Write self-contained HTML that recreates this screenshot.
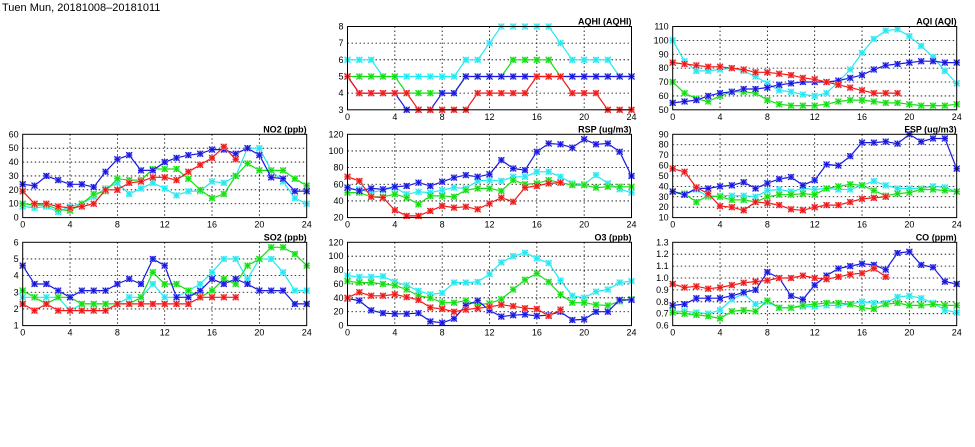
<!DOCTYPE html>
<html><head><meta charset="utf-8">
<style>
html,body{margin:0;padding:0;background:#fff;width:975px;height:447px;overflow:hidden}
svg{display:block}
text{font-family:"Liberation Sans",sans-serif;font-size:9px;fill:#000}
</style></head>
<body>
<svg id="chart" width="975" height="447" viewBox="0 0 975 447" xmlns="http://www.w3.org/2000/svg">
<text x="2" y="11" style="font-size:11px">Tuen Mun, 20181008–20181011</text>
</svg>
<script>
const hours = [0,1,2,3,4,5,6,7,8,9,10,11,12,13,14,15,16,17,18,19,20,21,22,23,24];
const xTicks = [0,4,8,12,16,20,24];

const aqhiTicks = [3,4,5,6,7,8];
const aqhiCyan = [6,6,6,5,5,5,5,5,5,5,6,6,7,8,8,8,8,8,7,6,6,6,6,5,5];
const aqhiGreen = [5,5,5,5,5,4,4,4,4,4,5,5,5,5,6,6,6,6,5,5,5,5,5,5,5];
const aqhiBlue = [5,4,4,4,4,3,3,3,4,4,5,5,5,5,5,5,5,5,5,5,5,5,5,5,5];
const aqhiRed = [5,4,4,4,4,4,3,3,3,3,3,4,4,4,4,4,5,5,5,4,4,4,3,3,3];

const aqiTicks = [50,60,70,80,90,100,110];
const aqiCyan = [100,85,78,78,79,80,78,74,69,64,63,61,60,62,70,79,91,101,107,108,103,96,88,78,69];
const aqiGreen = [70,62,58,56,60,63,63,62,57,54,53,53,53,54,56,57,57,56,55,55,54,53,53,53,54];
const aqiBlue = [55,56,57,60,62,63,65,65,66,68,69,70,70,70,71,73,75,79,82,83,84,85,85,84,84];
const aqiRed = [84,83,82,81,81,80,79,77,77,76,75,73,72,70,68,66,64,62,62,62];

const no2Ticks = [0,10,20,30,40,50,60];
const no2Cyan = [8,7,8,4,8,10,15,21,25,17,21,25,21,16,19,19,26,25,30,50,50,34,26,14,10];
const no2Green = [10,9,9,6,5,10,17,19,28,27,27,35,35,35,28,20,14,17,30,39,34,34,34,28,23];
const no2Blue = [24,23,30,27,24,24,22,33,42,45,34,34,40,43,45,46,49,49,46,50,45,29,28,19,19];
const no2Red = [19,10,10,8,7,8,10,20,20,25,26,29,29,27,33,38,43,51,42];

const rspTicks = [20,40,60,80,100,120];
const rspCyan = [54,54,50,53,56,48,51,50,53,56,55,64,65,64,69,69,75,75,69,61,60,71,61,54,50];
const rspGreen = [50,50,45,45,48,44,36,46,46,45,53,55,55,52,65,60,61,65,62,59,59,56,57,57,57];
const rspBlue = [56,52,55,54,57,58,62,58,63,68,71,69,72,89,79,77,99,109,108,104,114,108,109,99,70];
const rspRed = [69,64,45,44,29,22,22,28,34,32,33,30,37,44,39,56,58,61,62];

const fspTicks = [10,20,30,40,50,60,70,80,90];
const fspCyan = [35,32,37,30,31,31,31,30,36,37,35,38,37,38,37,37,41,45,41,38,38,38,40,39,35];
const fspGreen = [35,33,25,31,30,27,27,25,30,32,32,33,32,38,40,42,41,36,31,33,34,37,37,36,35];
const fspBlue = [35,32,38,38,40,41,44,38,43,47,49,41,46,61,60,69,82,82,83,81,90,83,86,86,57];
const fspRed = [57,54,39,33,21,20,17,25,24,22,18,17,20,22,22,25,28,29,30];

const so2Ticks = [1,2,3,4,5,6];
const so2Cyan = [2.7,2.7,2.7,2.7,1.9,2.3,2.3,2.3,2.3,2.7,2.7,3.5,2.7,2.7,3.1,3.5,4.2,5.0,5.0,3.8,5.0,5.0,4.2,3.1,3.1];
const so2Green = [3.1,2.7,2.3,2.7,2.7,2.3,2.3,2.3,2.3,2.3,2.7,4.2,3.5,3.5,3.1,2.7,3.1,3.8,3.5,4.6,5.0,5.7,5.7,5.3,4.6];
const so2Blue = [4.6,3.5,3.5,3.1,2.7,3.1,3.1,3.1,3.5,3.8,3.5,5.0,4.6,2.7,2.7,3.1,3.8,3.5,3.8,3.5,3.1,3.1,3.1,2.3,2.3];
const so2Red = [2.3,1.9,2.3,1.9,1.9,1.9,1.9,1.9,2.3,2.3,2.3,2.3,2.3,2.3,2.3,2.7,2.7,2.7,2.7];

const o3Ticks = [0,20,40,60,80,100,120];
const o3Cyan = [72,70,70,71,63,58,50,45,47,62,62,63,74,91,100,105,97,90,65,43,40,49,52,62,64];
const o3Green = [64,62,62,60,58,52,43,40,33,33,36,30,32,38,52,66,75,63,45,33,33,30,29,35,38];
const o3Blue = [39,36,22,18,17,17,18,6,4,10,29,36,22,13,15,16,14,15,20,8,9,20,20,37,37];
const o3Red = [40,48,43,43,45,41,37,26,24,20,23,25,27,30,28,25,24,14,23];

const coTicks = [0.6,0.7,0.8,0.9,1.0,1.1,1.2,1.3];
const coCyan = [0.72,0.72,0.71,0.70,0.73,0.82,0.87,0.78,0.80,0.75,0.75,0.76,0.76,0.77,0.77,0.78,0.80,0.79,0.79,0.84,0.85,0.83,0.79,0.73,0.71];
const coGreen = [0.71,0.70,0.69,0.68,0.66,0.72,0.73,0.72,0.81,0.75,0.75,0.77,0.78,0.79,0.79,0.78,0.75,0.74,0.78,0.79,0.77,0.77,0.78,0.77,0.77];
const coBlue = [0.77,0.78,0.83,0.83,0.83,0.85,0.88,0.90,1.05,1.00,0.85,0.82,0.94,1.02,1.08,1.10,1.12,1.11,1.07,1.21,1.22,1.11,1.09,0.97,0.95];
const coRed = [0.95,0.92,0.93,0.91,0.92,0.94,0.96,0.97,0.98,1.00,1.00,1.02,1.00,0.99,1.01,1.03,1.04,1.08,1.01];

const NS = 'http://www.w3.org/2000/svg';
const svg = document.getElementById('chart');
function mk(tag, attrs, parent){
  const e = document.createElementNS(NS, tag);
  for (const k in attrs) e.setAttribute(k, attrs[k]);
  (parent||svg).appendChild(e);
  return e;
}
const COL = {cyan:'#22e8f0', green:'#10e010', blue:'#1818e0', red:'#f01818'};
const LIGHT = {cyan:'#a8f4f8', green:'#a0f0a0', blue:'#a0a0f4', red:'#f4a0a0'};

function panel(id, title, left, top, w, h, ticks, fmt, series){
  const g = mk('g', {});
  
  
  const ymin = ticks[0], ymax = ticks[ticks.length-1];
  const xs = v => left + v/24*w;
  const ys = v => top + h - (v-ymin)/(ymax-ymin)*h;
  // grid
  ticks.forEach((t,i)=>{
    if(i>0 && i<ticks.length-1){
      const l = mk('line',{x1:left,x2:left+w,y1:ys(t),y2:ys(t),stroke:'#000','stroke-width':0.8,'stroke-dasharray':'1.5,2.5'},g);
      
      
    }
    const tx = mk('text',{x:left-4,y:ys(t)+3,'text-anchor':'end'},g);
    
    
    tx.textContent = fmt(t);
  });
  xTicks.forEach((t,i)=>{
    if(i>0 && i<xTicks.length-1){
      const l = mk('line',{x1:xs(t),x2:xs(t),y1:top,y2:top+h,stroke:'#000','stroke-width':0.8,'stroke-dasharray':'1.5,2.5'},g);
      
      
    }
    const tx = mk('text',{x:xs(t),y:top+h+10,'text-anchor':'middle'},g);
    
    
    tx.textContent = t;
  });
  // clip
  const cp = mk('clipPath',{id:'clip-'+id},g);
  mk('rect',{x:left-4,y:top-4,width:w+8,height:h+8},cp);
  const sg = mk('g',{'clip-path':'url(#clip-'+id+')'},g);
  series.forEach(([name,vals])=>{
    const pts = vals.map((v,i)=>xs(hours[i]).toFixed(1)+','+ys(v).toFixed(1)).join(' ');
    const pl = mk('polyline',{points:pts,fill:'none',stroke:COL[name],'stroke-width':1.2},sg);
    
    
    vals.forEach((v,i)=>{
      const cx = xs(hours[i]), cy = ys(v);
      const m = mk('g',{},sg);
      
      
      mk('rect',{x:cx-3,y:cy-3,width:6,height:6,fill:LIGHT[name]},m);
      mk('path',{d:`M${cx-3},${cy-3}L${cx+3},${cy+3}M${cx+3},${cy-3}L${cx-3},${cy+3}M${cx-3},${cy}L${cx+3},${cy}M${cx},${cy-3}L${cx},${cy+3}`,stroke:COL[name],'stroke-width':1.1},m);
    });
  });
  const fr = mk('rect',{x:left,y:top,width:w,height:h,fill:'none',stroke:'#000','stroke-width':1},g);
  
  
  const tt = mk('text',{x:left+w,y:top-2,'text-anchor':'end','font-weight':'bold'},g);
  
  
  tt.textContent = title;
}
const I = v => String(v);
const F1 = v => v.toFixed(1);
const H = 83.3;
const LX=22.7, MX=347.5, RX=672.7, W=284;
const R1=26.5, R2=134.3, R3=242.3;
panel('aqhi','AQHI (AQHI)',MX,R1,W,H,aqhiTicks,I,[['cyan',aqhiCyan],['green',aqhiGreen],['blue',aqhiBlue],['red',aqhiRed]]);
panel('aqi','AQI (AQI)',RX,R1,W,H,aqiTicks,I,[['cyan',aqiCyan],['green',aqiGreen],['blue',aqiBlue],['red',aqiRed]]);
panel('no2','NO2 (ppb)',LX,R2,W,H,no2Ticks,I,[['cyan',no2Cyan],['green',no2Green],['blue',no2Blue],['red',no2Red]]);
panel('rsp','RSP (ug/m3)',MX,R2,W,H,rspTicks,I,[['cyan',rspCyan],['green',rspGreen],['blue',rspBlue],['red',rspRed]]);
panel('fsp','FSP (ug/m3)',RX,R2,W,H,fspTicks,I,[['cyan',fspCyan],['green',fspGreen],['blue',fspBlue],['red',fspRed]]);
panel('so2','SO2 (ppb)',LX,R3,W,H,so2Ticks,I,[['cyan',so2Cyan],['green',so2Green],['blue',so2Blue],['red',so2Red]]);
panel('o3','O3 (ppb)',MX,R3,W,H,o3Ticks,I,[['cyan',o3Cyan],['green',o3Green],['blue',o3Blue],['red',o3Red]]);
panel('co','CO (ppm)',RX,R3,W,H,coTicks,F1,[['cyan',coCyan],['green',coGreen],['blue',coBlue],['red',coRed]]);
</script>
</body></html>
